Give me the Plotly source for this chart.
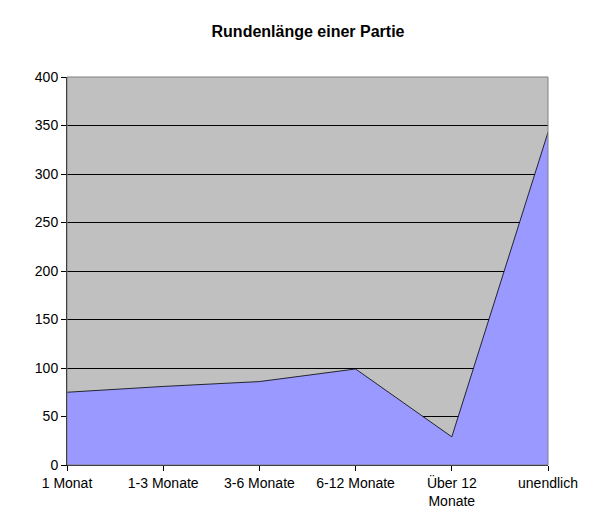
import plotly.graph_objects as go

categories = ["1 Monat", "1-3 Monate", "3-6 Monate", "6-12 Monate", "Über 12<br>Monate", "unendlich"]
values = [75, 81, 86, 99, 29, 343]
y_ticks = [0, 50, 100, 150, 200, 250, 300, 350, 400]

x = list(range(len(categories)))

fig = go.Figure(go.Scatter(
    x=x, y=values, mode="lines", fill="tozeroy",
    fillcolor="#9999FF", line=dict(color="#000000", width=0.8),
))

fig.update_layout(
    width=600, height=522,
    margin=dict(l=59, r=60, t=69, b=65),
    paper_bgcolor="white", plot_bgcolor="#C0C0C0",
    font=dict(family="Liberation Sans, Arial", size=14, color="black"),
    title=dict(text="<b>Rundenlänge einer Partie</b>", x=0.5, xanchor="center",
               y=0.965, font=dict(size=16)),
    showlegend=False,
    xaxis=dict(range=[0, 5], tickvals=x, ticktext=categories, showgrid=False,
               zeroline=False, showline=True, linecolor="black", ticks="outside",
               ticklen=5, tickcolor="black"),
    yaxis=dict(range=[0, 400], tickvals=y_ticks, showgrid=True, gridcolor="black",
               gridwidth=1, zeroline=False, showline=True, linecolor="black",
               ticks="outside", ticklen=5, tickcolor="black"),
)
fig.add_shape(type="rect", xref="paper", yref="paper", x0=0, y0=0, x1=1, y1=1,
              line=dict(color="#808080", width=1))

fig.write_html("out.html")
